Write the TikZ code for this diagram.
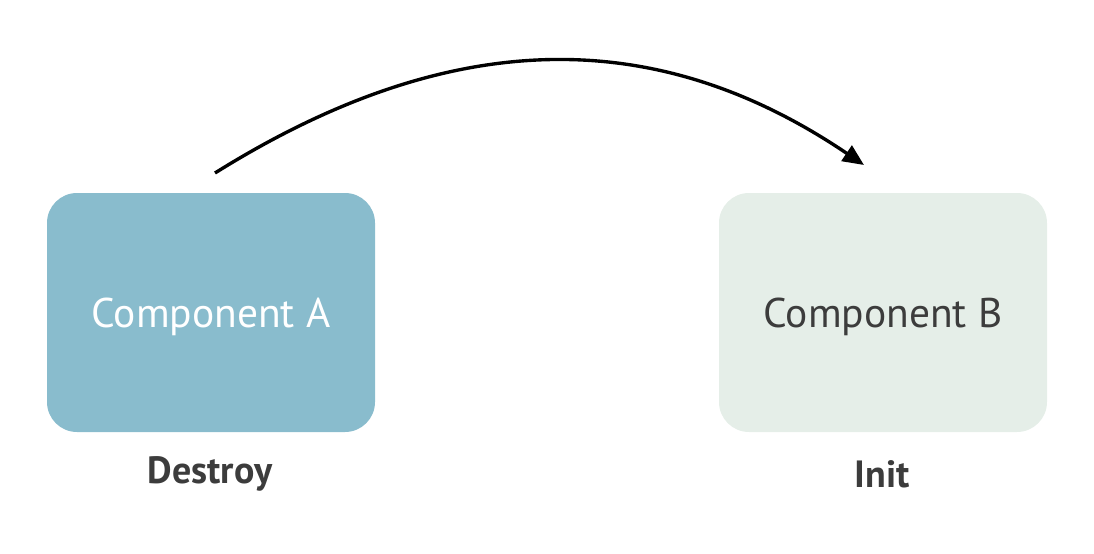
\documentclass[tikz,border=0pt]{standalone}
\usepackage{fontspec}
\setmainfont{PT Sans}
\usepackage{tikz}
\usetikzlibrary{arrows.meta}

\definecolor{compA}{HTML}{89BCCD}
\definecolor{compB}{HTML}{E5EEE8}
\definecolor{darktext}{HTML}{3C3C3C}

\begin{document}
\begin{tikzpicture}[
        	comp/.style={shape=rectangle,rounded corners=0.75cm,minimum width=8.2cm,minimum height=5.975cm,inner sep=0pt,text depth=0pt,font=\fontsize{29.5}{36}\selectfont},
        	tag/.style={text=darktext,font=\fontsize{27}{32}\selectfont\bfseries}
        	]
        	
        	\useasboundingbox (0,0) rectangle (27.35,-13.85);
        	
        	\node[comp,fill=compA,text=white] (a) at (5.275,-7.8125) {Component A};
        	\node[comp,fill=compB,text=darktext] (b) at (22.075,-7.8125) {Component B};
        	
        	\node[tag] (destroy) at (5.25,-11.85) {Destroy};
        	\node[tag] (init) at (22.05,-11.85) {Init};
        	
        	\coordinate (s) at (5.375,-4.325);
        	\coordinate (t) at (21.6,-4.125);
        	\draw[line width=2.4pt,-{Triangle[length=15pt,width=13pt]}] (s) .. controls (11.3,-0.625) and (16.425,-0.625) .. (t);
        	
\end{tikzpicture}
\end{document}
